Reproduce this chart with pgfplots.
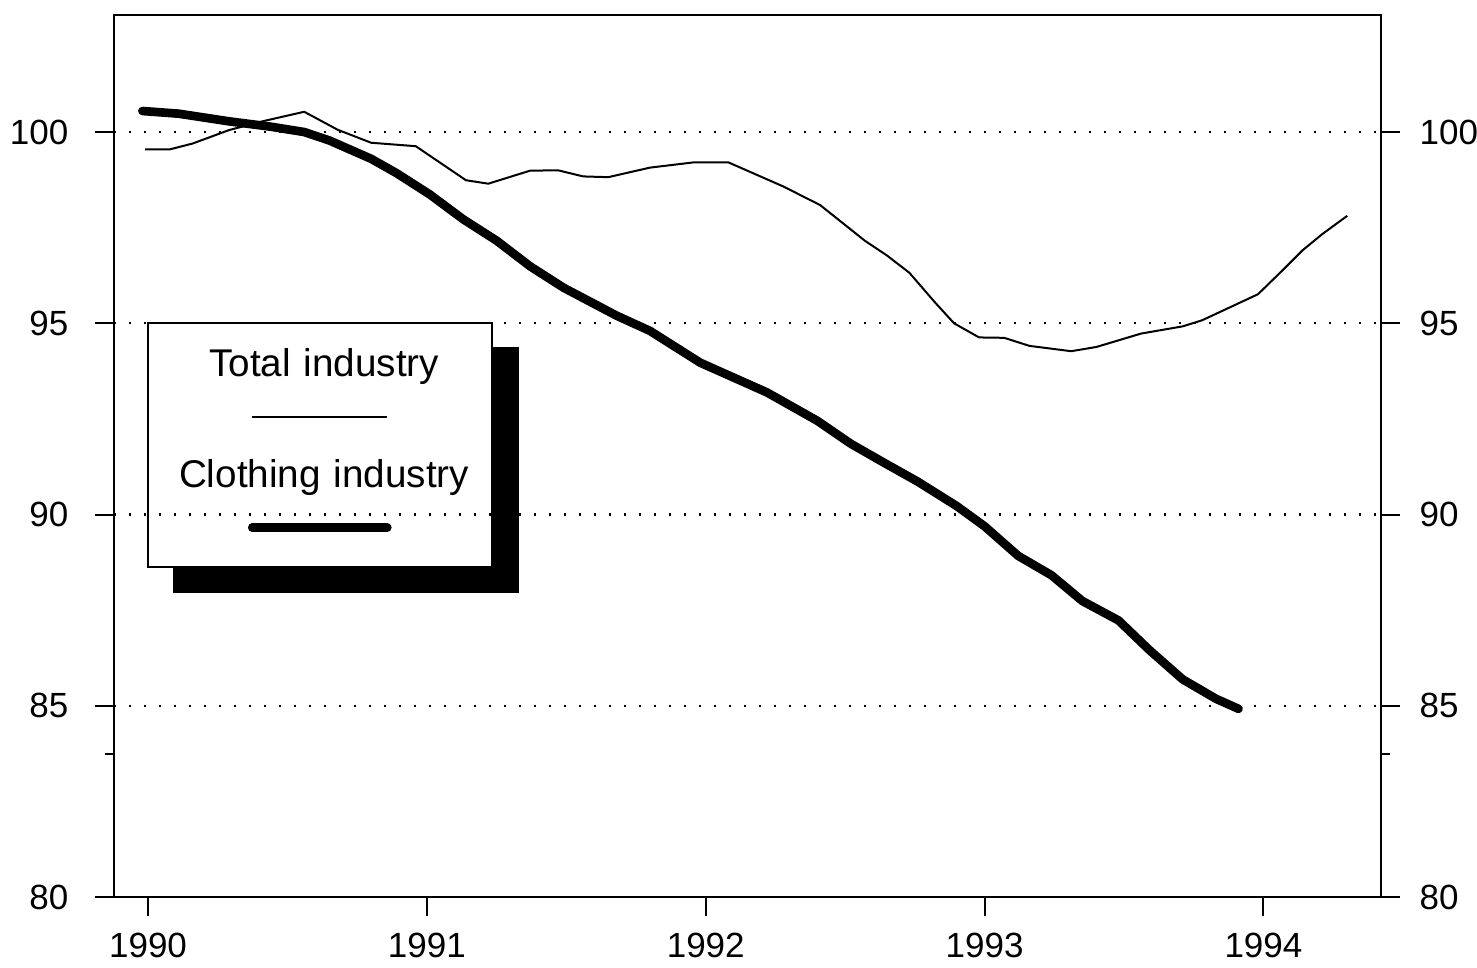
\documentclass[border=0pt]{standalone}
\usepackage{fontspec}
\setmainfont{Liberation Sans}
\usepackage{pgfplots}
\pgfplotsset{compat=1.18}
\pgfdeclarelayer{background}
\pgfsetlayers{background,main}

\pgfplotsset{
  idxframe/.style={
    scale only axis, width=380.1pt, height=264.6pt,
    xmin=1989.878, xmax=1994.421, ymin=80, ymax=103.06,
    xtick={1990,...,1994}, minor x tick num=11,
    ytick={80,85,90,95,100}, minor ytick={83.75},
    tick align=outside,
    major tick length=5.7pt, minor tick length=2.6pt,
    tick style={line width=0.6pt, black},
    axis line style={line width=0.7pt},
    tick label style={font=\fontsize{10.5}{12}\selectfont},
    /pgf/number format/assume math mode=true,
    x tick label style={/pgf/number format/1000 sep=, yshift=-1.5pt},
  }
}

\begin{document}
\begin{tikzpicture}
\begin{axis}[
  idxframe, name=ax,
  ytick pos=left, xtick pos=bottom,
  yticklabel style={xshift=-4.5pt},
  ymajorgrids,
  major grid style={line width=0.7pt, dash pattern=on 0.7pt off 3.8pt, black},
  legend style={name=leg, at={(0.026,0.652)}, anchor=north west,
    draw=black, line width=0.6pt, fill=none,
    inner xsep=0pt, inner ysep=8pt, column sep=0pt, row sep=9.3pt,
    font=\fontsize{11.6}{13}\selectfont,
    nodes={inner sep=0pt, text width=100.5pt, align=center, text height=8pt, text depth=16pt}},
  legend image code/.code={\path (0,0); \draw[#1, overlay] (30pt,-8.1pt) -- ++(40.5pt,0);},
]
% Total industry
\addplot[black, line width=0.6pt, line join=round] coordinates {
  (1989.99,99.55) (1990.08,99.55) (1990.16,99.70) (1990.29,100.05)
  (1990.41,100.28) (1990.56,100.53) (1990.68,100.06) (1990.80,99.72)
  (1990.96,99.63) (1991.14,98.74) (1991.22,98.65) (1991.37,98.99)
  (1991.47,99.00) (1991.56,98.84) (1991.65,98.82) (1991.80,99.07)
  (1991.96,99.21) (1992.08,99.21) (1992.28,98.57) (1992.41,98.09)
  (1992.57,97.16) (1992.65,96.77) (1992.73,96.32) (1992.82,95.56)
  (1992.89,95.00) (1992.98,94.63) (1993.07,94.62) (1993.16,94.41)
  (1993.31,94.27) (1993.40,94.38) (1993.56,94.73) (1993.71,94.92)
  (1993.78,95.08) (1993.98,95.76) (1994.07,96.40) (1994.14,96.91)
  (1994.21,97.33) (1994.30,97.81)
};
\addlegendentry{Total industry}
% Clothing industry
\addplot[black, line width=2.6pt, line join=round, line cap=round] coordinates {
  (1989.98,100.55) (1990.11,100.48) (1990.29,100.28) (1990.44,100.14)
  (1990.56,100.00) (1990.65,99.78) (1990.80,99.30) (1990.89,98.93)
  (1991.01,98.37) (1991.13,97.72) (1991.25,97.16) (1991.37,96.49)
  (1991.49,95.93) (1991.68,95.20) (1991.80,94.80) (1991.98,93.97)
  (1992.22,93.19) (1992.40,92.45) (1992.52,91.85) (1992.64,91.35)
  (1992.76,90.86) (1992.90,90.22) (1993.00,89.69) (1993.12,88.92)
  (1993.24,88.41) (1993.35,87.74) (1993.48,87.23) (1993.59,86.46)
  (1993.71,85.69) (1993.83,85.18) (1993.91,84.92)
};
\addlegendentry{Clothing industry}
\end{axis}
\begin{axis}[
  idxframe,
  axis x line=none, axis y line*=right,
  yticklabel style={xshift=2.4pt},
]
\end{axis}
% legend shadow and paper, under the grid
\begin{pgfonlayer}{background}
  \fill[black] ([xshift=7.8pt,yshift=-7.5pt]leg.south west) rectangle ([xshift=7.8pt,yshift=-7.5pt]leg.north east);
  \fill[white] (leg.south west) rectangle (leg.north east);
\end{pgfonlayer}
\pgfresetboundingbox
\path[use as bounding box] ([xshift=-34.2pt,yshift=4.5pt]ax.north west) rectangle ([xshift=28.8pt,yshift=-21pt]ax.south east);
\end{tikzpicture}
\end{document}
